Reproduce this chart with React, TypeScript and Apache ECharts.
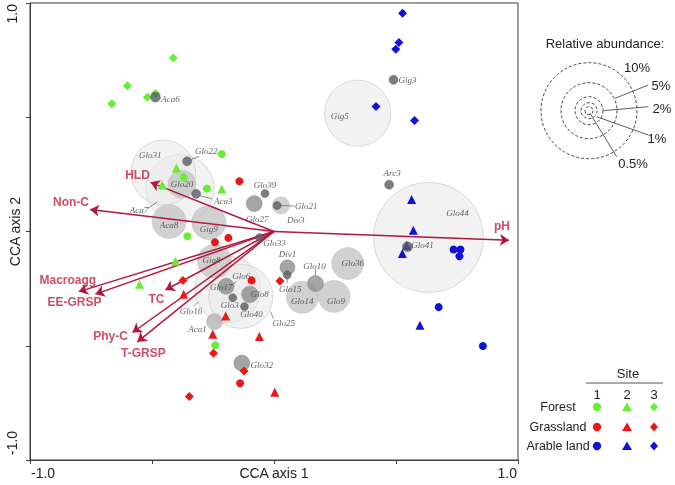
import React, { useEffect, useRef } from 'react';
import * as echarts from 'echarts';

// ---------- DATA ----------
// Sample scores (CCA axis 1, CCA axis 2), by land use and site
const forestSite1 = [[-0.214, 0.339], [-0.370, 0.237], [-0.275, 0.188], [-0.355, -0.021], [-0.241, -0.498]];
const forestSite2 = [[-0.400, 0.278], [-0.458, 0.204], [-0.214, 0.186], [-0.404, -0.130], [-0.551, -0.231]];
const forestSite3 = [[-0.413, 0.759], [-0.601, 0.638], [-0.519, 0.588], [-0.486, 0.604], [-0.665, 0.559]];
const grassSite1 = [[-0.142, 0.220], [-0.242, -0.047], [-0.187, -0.028], [-0.092, -0.214], [-0.139, -0.664]];
const grassSite2 = [[-0.370, -0.275], [-0.198, -0.370], [-0.251, -0.450], [-0.060, -0.460], [0.003, -0.704]];
const grassSite3 = [[-0.373, -0.214], [0.024, -0.217], [-0.248, -0.533], [-0.123, -0.610], [-0.347, -0.722]];
const arableSite1 = [[0.736, -0.079], [0.764, -0.079], [0.760, -0.108], [0.675, -0.331], [0.856, -0.501]];
const arableSite2 = [[0.564, 0.140], [0.571, 0.006], [0.544, -0.061], [0.526, -0.096], [0.598, -0.410]];
const arableSite3 = [[0.527, 0.955], [0.512, 0.827], [0.499, 0.798], [0.418, 0.547], [0.576, 0.486]];

// Environmental variables (biplot arrows)
const envNames = ['Non-C', 'HLD', 'pH', 'Macroagg', 'EE-GRSP', 'TC', 'Phy-C', 'T-GRSP'];
const envX = [-0.754, -0.506, 0.963, -0.800, -0.732, -0.445, -0.580, -0.560];
const envY = [0.096, 0.215, -0.038, -0.263, -0.274, -0.256, -0.442, -0.483];

// AMF species: scores, relative abundance (%), shade class
const speciesNames = ['Aca6', 'Glo31', 'Aca7', 'Glo20', 'Glo22', 'Aca3', 'Glo39', 'Glo27', 'Div3', 'Glo21',
  'Aca8', 'Gig9', 'Gig8', 'Glo16', 'Glo25', 'Glo17', 'Glo6', 'Glo8', 'Glo3', 'Glo40', 'Aca1', 'Glo33',
  'Div1', 'Glo15', 'Glo10', 'Glo14', 'Glo9', 'Glo36', 'Glo32', 'Gig5', 'Gig3', 'Arc3', 'Glo44', 'Glo41'];
const speciesX = [-0.486, -0.454, -0.385, -0.377, -0.356, -0.319, -0.037, -0.081, 0.028, 0.013,
  -0.430, -0.267, -0.244, -0.189, -0.136, -0.196, -0.175, -0.099, -0.169, -0.121, -0.244, -0.059,
  0.055, 0.054, 0.170, 0.116, 0.246, 0.302, -0.132, 0.343, 0.490, 0.472, 0.633, 0.547];
const speciesY = [0.588, 0.258, 0.188, 0.207, 0.307, 0.165, 0.166, 0.122, 0.114, 0.114,
  0.044, 0.039, -0.130, -0.253, -0.284, -0.240, -0.240, -0.275, -0.290, -0.328, -0.395, -0.026,
  -0.157, -0.190, -0.228, -0.288, -0.284, -0.140, -0.576, 0.518, 0.664, 0.205, -0.026, -0.067];
const speciesAbundance = [0.62, 6.1, 6.5, 2.0, 0.56, 0.56, 0.5, 1.0, 1.1, 0.5,
  2.64, 2.64, 2.64, 6.25, 6.0, 1.0, 0, 1.05, 0.5, 0.5, 1.0, 0.5,
  0.94, 0.5, 1.0, 2.43, 2.43, 2.43, 1.0, 6.25, 0.56, 0.56, 11.75, 0.62];
const speciesShade = ['dark', 'pale', 'pale', 'light', 'dark', 'dark', 'dark', 'mid', 'light', 'dark',
  'light', 'light', 'light', 'pale', 'pale', 'mid', 'none', 'mid', 'dark', 'dark', 'lightmid', 'dark',
  'mid', 'dark', 'mid', 'light', 'light', 'light', 'mid', 'pale', 'dark', 'dark', 'pale', 'dark'];

// Legend values
const abundanceLevels = [0.5, 1, 2, 5, 10];
const abundanceLabels = ['0.5%', '1%', '2%', '5%', '10%'];
const landUses = ['Forest', 'Grassland', 'Arable land'];
const sites = ['1', '2', '3'];

// Axis tick labels
const xTickLabels = ['-1.0', '1.0'];
const yTickLabels = ['-1.0', '1.0'];

// ---------- STYLE / LAYOUT ----------
const FOREST = '#66ee33';
const GRASS = '#ee1515';
const ARABLE = '#1212d6';
const ARROW = '#b3173b';
const ARROW_TEXT = '#c4203c';
const LEADER = '#6a7190';
const SANS = '"Liberation Sans", Arial, sans-serif';
const SERIF = '"Liberation Serif", "Times New Roman", serif';

const legendRadii = [4, 8, 14, 28, 48];
function radiusOf(p: number): number {
  if (p <= 0) return 0;
  if (p <= abundanceLevels[0]) return (legendRadii[0] / abundanceLevels[0]) * p;
  for (let i = 1; i < abundanceLevels.length; i++) {
    if (p <= abundanceLevels[i]) {
      const t = (p - abundanceLevels[i - 1]) / (abundanceLevels[i] - abundanceLevels[i - 1]);
      return legendRadii[i - 1] + t * (legendRadii[i] - legendRadii[i - 1]);
    }
  }
  const n = abundanceLevels.length - 1;
  const slope = (legendRadii[n] - legendRadii[n - 1]) / (abundanceLevels[n] - abundanceLevels[n - 1]);
  return legendRadii[n] + (p - abundanceLevels[n]) * slope;
}

const shadeStyle: Record<string, any> = {
  dark: { color: '#5a5d63', borderColor: '#4b4e54', borderWidth: 0.5 },
  mid: { color: '#8d8d8d', borderColor: '#7f7f7f', borderWidth: 0.5 },
  lightmid: { color: '#b4b4b4', borderColor: '#a8a8a8', borderWidth: 0.5 },
  light: { color: '#c6c6c6', borderColor: '#b9b9b9', borderWidth: 0.5 },
  pale: { color: 'rgba(233,233,233,0.72)', borderColor: '#cfcfcf', borderWidth: 1 },
  none: { color: 'rgba(0,0,0,0)', borderWidth: 0 },
};

// label offsets (px) relative to species centre
const speciesLabelOffset: Record<string, [number, number]> = {
  Aca6: [15, 2], Glo31: [-13, -18], Aca7: [-41, 21], Glo20: [0, 0], Glo22: [19, -10], Aca3: [27, 7],
  Glo39: [0, -9], Glo27: [3, 15], Div3: [15, 15], Glo21: [29, 1], Aca8: [0, 4], Gig9: [0, 6],
  Gig8: [-3, -1], Glo16: [-37, 22], Glo25: [43, 27], Glo17: [-5, 1], Glo6: [10, -10], Glo8: [10, 0],
  Glo3: [-3, 7], Glo40: [7, 8], Aca1: [-17, 7], Glo33: [15, 6], Div1: [0, -13], Glo15: [3, 14],
  Glo10: [-1, -18], Glo14: [0, 4], Glo9: [2, 5], Glo36: [5, 0], Glo32: [20, 2], Gig5: [-18, 3],
  Gig3: [14, 0], Arc3: [3, -12], Glo44: [29, -24], Glo41: [15, -2],
};
const speciesLeaders: Record<string, [[number, number], [number, number]]> = {
  Aca7: [[-33, 20.5], [-23, 13.5]], Glo22: [[3, -1.5], [12, -5]], Aca3: [[4, 2], [15.7, 5]],
  Glo21: [[4, 0], [17.6, 0.7]], Glo16: [[-34.3, 17.3], [-29.3, 12.3]], Glo25: [[29.7, 15.3], [32.7, 22.3]],
  Glo6: [[1, -1], [5, -5]], Glo15: [[0, 4], [0, 8]], Glo10: [[0, -14], [0, -8]],
};
const envLabelOffset: Record<string, [number, number]> = {
  'Non-C': [-19, -7.5], HLD: [-13, -7], pH: [-7, -14], Macroagg: [-11, -12],
  'EE-GRSP': [-21, 8], TC: [-9, 9], 'Phy-C': [-22, 4], 'T-GRSP': [6, 11],
};

export default function App() {
  const ref = useRef<HTMLDivElement>(null);
  useEffect(() => {
    const chart = echarts.init(ref.current!, null, { renderer: 'svg' });

    const speciesIdx = speciesNames.map((_, i) => i).sort((a, b) => speciesAbundance[b] - speciesAbundance[a]);
    const mkSpecies = (i: number) => ({
      name: speciesNames[i],
      value: [speciesX[i], speciesY[i]],
      symbolSize: Math.max(1, 2 * radiusOf(speciesAbundance[i])),
      itemStyle: shadeStyle[speciesShade[i]],
      label: { offset: speciesLabelOffset[speciesNames[i]] || [0, 0] },
    });
    const bigSpecies = speciesIdx.filter((i) => speciesShade[i] !== 'dark').map(mkSpecies);
    const darkSpecies = speciesIdx.filter((i) => speciesShade[i] === 'dark').map(mkSpecies);
    const speciesLabel = {
      show: true, position: 'inside', formatter: '{b}', fontFamily: SERIF, fontStyle: 'italic',
      fontSize: 9, color: '#3a3a3a',
    };

    const sampleSeries = (data: number[][], color: string, symbol: string, size: number) => ({
      type: 'scatter', data, symbol, symbolSize: size, z: 4,
      itemStyle: { color, opacity: 1 }, emphasis: { disabled: true },
    });

    const option: any = {
      animation: false,
      grid: { left: 27, top: 3, width: 491, height: 458, show: true, borderColor: '#3c3c3c', borderWidth: 1 },
      xAxis: {
        type: 'value', min: -1, max: 1, interval: 0.5,
        axisLine: { show: true, onZero: false, lineStyle: { color: '#3c3c3c', width: 1 } },
        axisTick: { show: true, length: 4, lineStyle: { color: '#3c3c3c' } },
        axisLabel: { show: false }, splitLine: { show: false },
        name: 'CCA axis 1', nameLocation: 'middle', nameGap: 6,
        nameTextStyle: { fontFamily: SANS, fontSize: 14, color: '#222', verticalAlign: 'top' },
      },
      yAxis: {
        type: 'value', min: -1, max: 1, interval: 0.5,
        axisLine: { show: true, onZero: false, lineStyle: { color: '#3c3c3c', width: 1 } },
        axisTick: { show: true, length: 4, lineStyle: { color: '#3c3c3c' } },
        axisLabel: { show: false }, splitLine: { show: false },
        name: 'CCA axis 2', nameLocation: 'middle', nameGap: 8, nameRotate: 90,
        nameTextStyle: { fontFamily: SANS, fontSize: 14, color: '#222' },
      },
      series: [
        { type: 'scatter', z: 2, data: bigSpecies, label: speciesLabel, emphasis: { disabled: true } },
        {
          type: 'lines', coordinateSystem: 'cartesian2d', z: 3,
          symbol: ['none', 'arrow'], symbolSize: [0, 9],
          lineStyle: { color: ARROW, width: 1.5, opacity: 1, curveness: 0 },
          data: envNames.map((n, i) => ({ name: n, coords: [[0, 0], [envX[i], envY[i]]] })),
          emphasis: { disabled: true },
        },
        sampleSeries(forestSite1, FOREST, 'circle', 8),
        sampleSeries(forestSite2, FOREST, 'triangle', 9),
        sampleSeries(forestSite3, FOREST, 'diamond', 9),
        sampleSeries(grassSite1, GRASS, 'circle', 8),
        sampleSeries(grassSite2, GRASS, 'triangle', 9),
        sampleSeries(grassSite3, GRASS, 'diamond', 9),
        sampleSeries(arableSite1, ARABLE, 'circle', 8),
        sampleSeries(arableSite2, ARABLE, 'triangle', 9),
        sampleSeries(arableSite3, ARABLE, 'diamond', 9),
        { type: 'scatter', z: 5, data: darkSpecies, label: speciesLabel, emphasis: { disabled: true } },
        {
          type: 'scatter', z: 6, symbolSize: 1, itemStyle: { color: 'rgba(0,0,0,0)' },
          data: envNames.map((n, i) => ({
            name: n, value: [envX[i], envY[i]], label: { offset: envLabelOffset[n] },
          })),
          label: {
            show: true, position: 'inside', formatter: '{b}', fontFamily: SANS, fontWeight: 'bold',
            fontSize: 12, color: ARROW_TEXT,
          },
          emphasis: { disabled: true },
        },
      ],
    };
    chart.setOption(option);

    const toPx = (v: number[]) => chart.convertToPixel({ xAxisIndex: 0, yAxisIndex: 0 }, v) as number[];
    const g: any[] = [];
    // tick labels
    const xMin = toPx([-1, -1]);
    const xMax = toPx([1, -1]);
    const yMax = toPx([-1, 1]);
    const tickFont = { fontFamily: SANS, fontSize: 14, fill: '#222' };
    g.push({ type: 'text', x: xMin[0] + 1, y: xMin[1] + 6, style: { ...tickFont, text: xTickLabels[0], align: 'left', verticalAlign: 'top' } });
    g.push({ type: 'text', x: xMax[0] - 1, y: xMax[1] + 6, style: { ...tickFont, text: xTickLabels[1], align: 'right', verticalAlign: 'top' } });
    g.push({ type: 'text', x: 12, y: xMin[1] - 5, rotation: Math.PI / 2, style: { ...tickFont, text: yTickLabels[0], align: 'left', verticalAlign: 'middle' } });
    g.push({ type: 'text', x: 12, y: yMax[1] + 1, rotation: Math.PI / 2, style: { ...tickFont, text: yTickLabels[1], align: 'right', verticalAlign: 'middle' } });

    // species leader lines
    speciesNames.forEach((n, i) => {
      const l = speciesLeaders[n];
      if (!l) return;
      const c = toPx([speciesX[i], speciesY[i]]);
      g.push({
        type: 'line', z: 10,
        shape: { x1: c[0] + l[0][0], y1: c[1] + l[0][1], x2: c[0] + l[1][0], y2: c[1] + l[1][1] },
        style: { stroke: LEADER, lineWidth: 0.8 },
      });
    });

    // Relative abundance legend
    const lc = [589, 110.7];
    g.push({ type: 'text', x: 605, y: 43, style: { text: 'Relative abundance:', fontFamily: SANS, fontSize: 13, fill: '#222', align: 'center', verticalAlign: 'middle' } });
    abundanceLevels.forEach((lv) => {
      g.push({ type: 'circle', shape: { cx: lc[0], cy: lc[1], r: radiusOf(lv) }, style: { fill: 'none', stroke: '#444', lineWidth: 1, lineDash: [3, 2] } });
    });
    const legLabelPos: [number, number][] = [[633, 163], [657, 138], [662, 108], [661, 85], [637, 67]];
    const legLeader: [number, number, number, number][] = [[590, 113.3, 616.7, 156.7], [596.7, 116.7, 648.3, 135], [603.3, 110.7, 648.3, 106.7], [615, 98.3, 648.3, 85], [0, 0, 0, 0]];
    abundanceLabels.forEach((t, k) => {
      g.push({ type: 'text', x: legLabelPos[k][0], y: legLabelPos[k][1], style: { text: t, fontFamily: SANS, fontSize: 13, fill: '#222', align: 'center', verticalAlign: 'middle' } });
      const ll = legLeader[k];
      if (ll[0]) g.push({ type: 'line', shape: { x1: ll[0], y1: ll[1], x2: ll[2], y2: ll[3] }, style: { stroke: '#333', lineWidth: 0.8 } });
    });

    // Site legend
    const colX = [597, 627, 654];
    const rowY = [407, 427, 446];
    const rowColors = [FOREST, GRASS, ARABLE];
    g.push({ type: 'text', x: 628, y: 373, style: { text: 'Site', fontFamily: SANS, fontSize: 13, fill: '#222', align: 'center', verticalAlign: 'middle' } });
    g.push({ type: 'line', shape: { x1: 586, y1: 383, x2: 663, y2: 383 }, style: { stroke: '#555', lineWidth: 1 } });
    sites.forEach((s, k) => {
      g.push({ type: 'text', x: colX[k], y: 394.5, style: { text: s, fontFamily: SANS, fontSize: 13, fill: '#222', align: 'center', verticalAlign: 'middle' } });
    });
    landUses.forEach((lu, r) => {
      const y = rowY[r];
      const col = rowColors[r];
      g.push({ type: 'text', x: 558, y, style: { text: lu, fontFamily: SANS, fontSize: 12.5, fill: '#222', align: 'center', verticalAlign: 'middle' } });
      g.push({ type: 'circle', shape: { cx: colX[0], cy: y, r: 4.2 }, style: { fill: col } });
      g.push({ type: 'polygon', shape: { points: [[colX[1], y - 4.5], [colX[1] + 5, y + 4], [colX[1] - 5, y + 4]] }, style: { fill: col } });
      g.push({ type: 'polygon', shape: { points: [[colX[2], y - 4.5], [colX[2] + 4, y], [colX[2], y + 4.5], [colX[2] - 4, y]] }, style: { fill: col } });
    });

    chart.setOption({ graphic: g });
    return () => chart.dispose();
  }, []);
  return <div ref={ref} style={{ position: 'fixed', left: 0, top: 0, width: 675, height: 485 }} />;
}
